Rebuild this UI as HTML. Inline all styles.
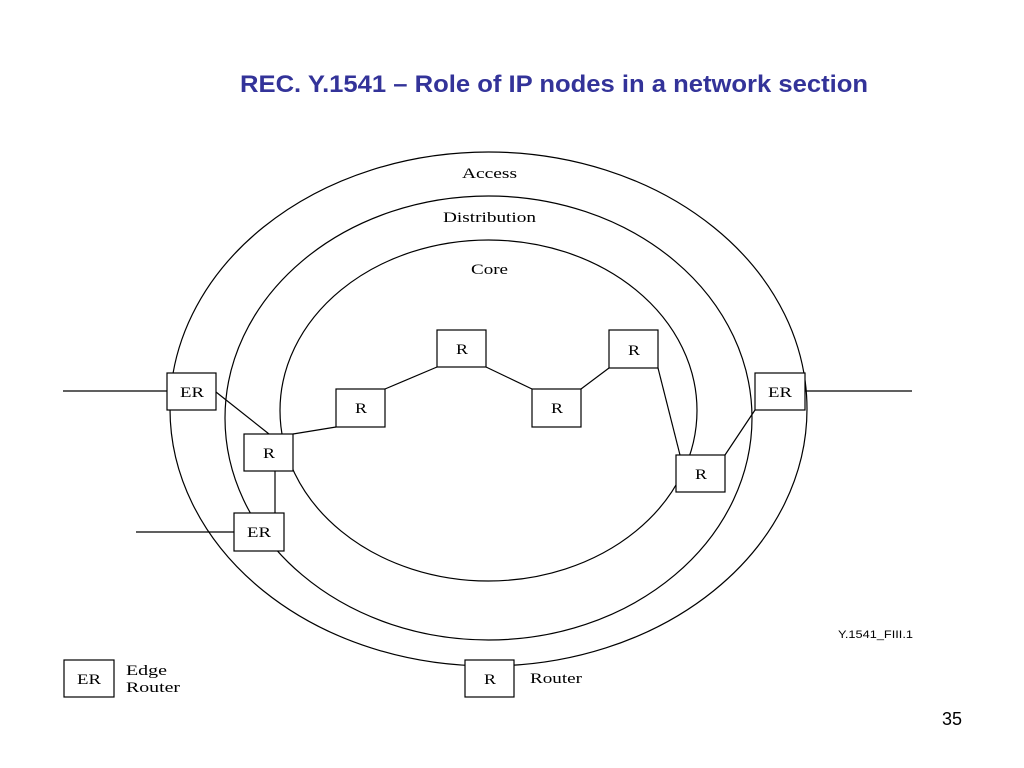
<!DOCTYPE html>
<html><head><meta charset="utf-8"><style>
body{margin:0;background:#fff;width:1024px;height:768px;overflow:hidden;}
svg{display:block}
</style></head><body>
<svg width="1024" height="768" viewBox="0 0 1024 768" xmlns="http://www.w3.org/2000/svg">
<text x="240" y="92" textLength="628" lengthAdjust="spacingAndGlyphs" font-family="Liberation Sans, sans-serif" font-weight="bold" font-size="24" fill="#333399">REC. Y.1541 – Role of IP nodes in a network section</text>
<g fill="none" stroke="#000" stroke-width="1.2">
<ellipse cx="488.5" cy="409" rx="318.5" ry="257"/>
<ellipse cx="488.5" cy="418" rx="263.5" ry="222"/>
<ellipse cx="488.5" cy="410.5" rx="208.5" ry="170.5"/>
<line x1="63" y1="391" x2="167" y2="391"/>
<line x1="805" y1="391" x2="912" y2="391"/>
<line x1="136" y1="532" x2="234" y2="532"/>
<line x1="216" y1="392" x2="269" y2="434"/>
<line x1="293" y1="434" x2="336" y2="427"/>
<line x1="385" y1="389" x2="437" y2="367"/>
<line x1="486" y1="367" x2="532" y2="389"/>
<line x1="581" y1="389" x2="609" y2="368"/>
<line x1="658" y1="368" x2="680" y2="455"/>
<line x1="725" y1="455" x2="755" y2="410"/>
<line x1="275" y1="471" x2="275" y2="513"/>
</g>
<g fill="#fff" stroke="#000" stroke-width="1.2">
<rect x="167" y="373" width="49" height="37"/>
<rect x="755" y="373" width="50" height="37"/>
<rect x="437" y="330" width="49" height="37"/>
<rect x="609" y="330" width="49" height="38"/>
<rect x="336" y="389" width="49" height="38"/>
<rect x="532" y="389" width="49" height="38"/>
<rect x="244" y="434" width="49" height="37"/>
<rect x="234" y="513" width="50" height="38"/>
<rect x="676" y="455" width="49" height="37"/>
<rect x="64" y="660" width="50" height="37"/>
<rect x="465" y="660" width="49" height="37"/>
</g>
<g font-family="Liberation Serif, serif" font-size="15" fill="#000">
<text x="462" y="178" textLength="55" lengthAdjust="spacingAndGlyphs">Access</text>
<text x="443" y="222" textLength="93" lengthAdjust="spacingAndGlyphs">Distribution</text>
<text x="471" y="274" textLength="37" lengthAdjust="spacingAndGlyphs">Core</text>
<text x="180" y="397" textLength="24" lengthAdjust="spacingAndGlyphs">ER</text>
<text x="768" y="397" textLength="24" lengthAdjust="spacingAndGlyphs">ER</text>
<text x="456" y="354" textLength="12" lengthAdjust="spacingAndGlyphs">R</text>
<text x="628" y="355" textLength="12" lengthAdjust="spacingAndGlyphs">R</text>
<text x="355" y="413" textLength="12" lengthAdjust="spacingAndGlyphs">R</text>
<text x="551" y="413" textLength="12" lengthAdjust="spacingAndGlyphs">R</text>
<text x="263" y="458" textLength="12" lengthAdjust="spacingAndGlyphs">R</text>
<text x="247" y="537" textLength="24" lengthAdjust="spacingAndGlyphs">ER</text>
<text x="695" y="479" textLength="12" lengthAdjust="spacingAndGlyphs">R</text>
<text x="77" y="684" textLength="24" lengthAdjust="spacingAndGlyphs">ER</text>
<text x="484" y="684" textLength="12" lengthAdjust="spacingAndGlyphs">R</text>
<text x="126" y="675" textLength="41" lengthAdjust="spacingAndGlyphs">Edge</text>
<text x="126" y="692" textLength="54" lengthAdjust="spacingAndGlyphs">Router</text>
<text x="530" y="683" textLength="52" lengthAdjust="spacingAndGlyphs">Router</text>
</g>
<text x="838" y="638" textLength="75" lengthAdjust="spacingAndGlyphs" font-family="Liberation Sans, sans-serif" font-size="11">Y.1541_FIII.1</text>
<text x="962" y="725" text-anchor="end" font-family="Liberation Sans, sans-serif" font-size="18">35</text>
</svg>
</body></html>
